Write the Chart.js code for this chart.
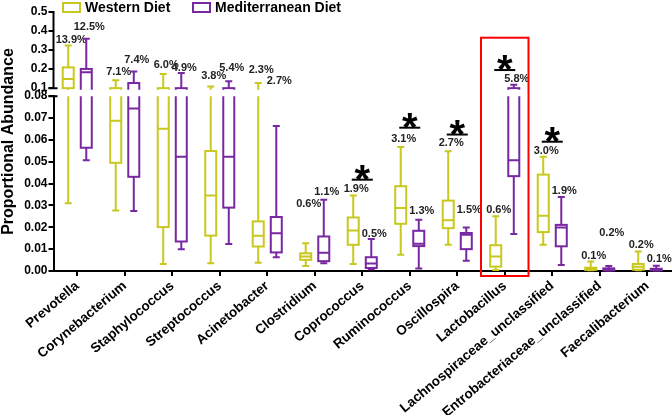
<!DOCTYPE html>
<html>
<head>
<meta charset="utf-8">
<script src="https://cdn.jsdelivr.net/npm/chart.js@4.4.1/dist/chart.umd.min.js"></script>
<style>
  html, body { margin: 0; padding: 0; background: #fff; }
  #wrap { width: 672px; height: 415px; }
</style>
</head>
<body>
<div id="wrap"><canvas id="canvas" width="672" height="415"></canvas></div>
<script>
var categories = ['Prevotella', 'Corynebacterium', 'Staphylococcus', 'Streptococcus', 'Acinetobacter',
  'Clostridium', 'Coprococcus', 'Ruminococcus', 'Oscillospira', 'Lactobacillus',
  'Lachnospiraceae_unclassified', 'Entrobacteriaceae_unclassified', 'Faecalibacterium'];

// [min, q1, median, q3, max]
var western = [
  [0.031, 0.1, 0.148, 0.209, 0.324],
  [0.0277, 0.0495, 0.0688, 0.1, 0.141],
  [0.0032, 0.0201, 0.0651, 0.1, 0.175],
  [0.0035, 0.0162, 0.0345, 0.0549, 0.109],
  [0.0038, 0.0112, 0.0161, 0.0227, 0.127],
  [0.0023, 0.0051, 0.0066, 0.0081, 0.0127],
  [0.0032, 0.012, 0.0185, 0.0245, 0.0346],
  [0.0074, 0.0216, 0.0288, 0.0388, 0.0567],
  [0.012, 0.0196, 0.0232, 0.0322, 0.0548],
  [0.0005, 0.002, 0.0066, 0.0118, 0.025],
  [0.012, 0.0178, 0.0253, 0.0441, 0.0523],
  [0.0003, 0.0005, 0.001, 0.0015, 0.0043],
  [0.0003, 0.0006, 0.002, 0.0032, 0.0089]
];
var mediterranean = [
  [0.0507, 0.0564, 0.183, 0.201, 0.36],
  [0.0274, 0.0431, 0.0743, 0.127, 0.188],
  [0.01, 0.0135, 0.0523, 0.1, 0.18],
  [0.0124, 0.029, 0.0523, 0.1, 0.136],
  [0.0063, 0.0085, 0.0173, 0.0247, 0.0664],
  [0.0036, 0.0045, 0.0084, 0.0158, 0.0326],
  [0.0008, 0.0014, 0.0034, 0.0063, 0.0146],
  [0.0012, 0.0114, 0.0125, 0.0184, 0.0234],
  [0.0047, 0.01, 0.0166, 0.0174, 0.0199],
  [0.0169, 0.0434, 0.0507, 0.1, 0.118],
  [0.0028, 0.0113, 0.0199, 0.0211, 0.0339],
  [0.0002, 0.0003, 0.0007, 0.0012, 0.0023],
  [0.0002, 0.0003, 0.0006, 0.001, 0.0024]
];

var westernMeans = ['13.9%', '7.1%', '6.0%', '3.8%', '2.3%', '0.6%', '1.9%', '3.1%', '2.7%', '0.6%', '3.0%', '0.1%', '0.2%'];
var mediterraneanMeans = ['12.5%', '7.4%', '4.9%', '5.4%', '2.7%', '1.1%', '0.5%', '1.3%', '1.5%', '5.8%', '1.9%', '0.2%', '0.1%'];

var significant = [6, 7, 8, 9, 10];
var highlighted = 9;

var topTicks = [0.1, 0.2, 0.3, 0.4, 0.5];
var bottomTicks = [0, 0.01, 0.02, 0.03, 0.04, 0.05, 0.06, 0.07, 0.08];

// label placement (pixels above the whisker cap)
var westernLift = [5.3, 8.4, 9.3, 10, 13.3, 39.3, 6.4, 8.4, 8.3, 6.7, 5.3, 6, 6.7];
var mediterraneanLift = [11.7, 11.7, 5, 13.4, 45, 7.3, 5.3, 9, 17.7, 5.7, 6.3, 33.3, 6.4];
var starLift = [15.7, 19.4, 16.7, 14.7, 15];

var yellow = 'rgb(200,200,30)';
var purple = 'rgb(120,40,160)';
var FONT = 'Liberation Sans, Arial, sans-serif';

var series = [
  { name: 'Western Diet', color: yellow, stats: western, means: westernMeans, lift: westernLift, side: -1 },
  { name: 'Mediterranean Diet', color: purple, stats: mediterranean, means: mediterraneanMeans, lift: mediterraneanLift, side: 1 }
];

function valuePixel(chart, v) {
  var s = chart.scales;
  if (v >= 0.1) return s.yTop.getPixelForValue(v);
  if (v <= 0.08) return s.yBot.getPixelForValue(v);
  return s.yTop.getPixelForValue(0.1);
}

var boxPlugin = {
  id: 'boxes',
  afterDatasetsDraw: function(chart) {
    var ctx = chart.ctx, area = chart.chartArea, s = chart.scales;
    var x = s.x, top = s.yTop, bot = s.yBot;
    var step = x.getPixelForValue(1) - x.getPixelForValue(0);
    var hw = 5.5, cw = 3.5;
    var parts = [
      { sc: top, y0: top.getPixelForValue(0.5) - 8, y1: top.getPixelForValue(0.1) + 1.5 },
      { sc: bot, y0: bot.getPixelForValue(0.08), y1: bot.getPixelForValue(0) + 1.5 }
    ];

    series.forEach(function(ser) {
      ser.stats.forEach(function(st, i) {
        var xc = x.getPixelForValue(i) + ser.side * step * 0.19;
        parts.forEach(function(p) {
          var Y = function(v) { return p.sc.getPixelForValue(v); };
          ctx.save();
          ctx.beginPath();
          ctx.rect(area.left, p.y0, area.right - area.left, p.y1 - p.y0);
          ctx.clip();
          ctx.strokeStyle = ser.color;
          ctx.lineWidth = 2;
          ctx.beginPath();
          ctx.moveTo(xc, Y(st[0])); ctx.lineTo(xc, Y(st[1]));
          ctx.moveTo(xc, Y(st[3])); ctx.lineTo(xc, Y(st[4]));
          ctx.moveTo(xc - cw, Y(st[0])); ctx.lineTo(xc + cw, Y(st[0]));
          ctx.moveTo(xc - cw, Y(st[4])); ctx.lineTo(xc + cw, Y(st[4]));
          ctx.moveTo(xc - hw, Y(st[2])); ctx.lineTo(xc + hw, Y(st[2]));
          ctx.stroke();
          ctx.strokeRect(xc - hw, Y(st[3]), hw * 2, Y(st[1]) - Y(st[3]));
          ctx.restore();
        });

        // mean label
        ctx.save();
        ctx.fillStyle = '#222';
        ctx.font = 'bold 11px ' + FONT;
        ctx.textAlign = 'center';
        ctx.textBaseline = 'middle';
        ctx.fillText(ser.means[i], xc + 3, valuePixel(chart, st[4]) - ser.lift[i]);
        ctx.restore();
      });
    });

    // significance marks
    significant.forEach(function(idx, k) {
      var xt = x.getPixelForValue(idx);
      var yl = Math.min(valuePixel(chart, western[idx][4]), valuePixel(chart, mediterranean[idx][4])) - starLift[k];
      ctx.save();
      ctx.strokeStyle = '#000';
      ctx.lineWidth = 2;
      ctx.beginPath();
      ctx.moveTo(xt - 10.5, yl); ctx.lineTo(xt + 10.5, yl);
      ctx.stroke();
      ctx.fillStyle = '#000';
      ctx.font = 'bold 40px ' + FONT;
      ctx.textAlign = 'center';
      ctx.textBaseline = 'alphabetic';
      ctx.fillText('*', xt, yl + 13);
      ctx.restore();
    });

    // highlight frame
    var xh = x.getPixelForValue(highlighted);
    ctx.save();
    ctx.strokeStyle = '#ff0000';
    ctx.lineWidth = 2;
    ctx.strokeRect(xh - step / 2, top.getPixelForValue(0.365), step, bot.getPixelForValue(0) + 5 - top.getPixelForValue(0.365));
    ctx.restore();
  },
  afterDraw: function(chart) {
    var ctx = chart.ctx, area = chart.chartArea, s = chart.scales;
    var top = s.yTop, bot = s.yBot;
    var ax = area.left;
    ctx.save();
    // upper axis segment and break marks
    ctx.strokeStyle = '#000';
    ctx.lineWidth = 2;
    ctx.beginPath();
    ctx.moveTo(ax, top.getPixelForValue(0.5) - 1);
    ctx.lineTo(ax, top.getPixelForValue(0.1));
    ctx.moveTo(ax - 5, top.getPixelForValue(0.1)); ctx.lineTo(ax + 4, top.getPixelForValue(0.1));
    ctx.moveTo(ax - 5, bot.getPixelForValue(0.08)); ctx.lineTo(ax + 4, bot.getPixelForValue(0.08));
    ctx.stroke();

    // y title
    ctx.fillStyle = '#000';
    ctx.font = 'bold 16px ' + FONT;
    ctx.textAlign = 'center';
    ctx.textBaseline = 'middle';
    ctx.translate(9, (area.top + area.bottom) / 2);
    ctx.rotate(-Math.PI / 2);
    ctx.fillText('Proportional Abundance', 0, 0);
    ctx.restore();

    // legend
    ctx.save();
    ctx.lineWidth = 2;
    ctx.font = 'bold 14px ' + FONT;
    ctx.textBaseline = 'middle';
    ctx.fillStyle = '#000';
    var lx = [63, 193];
    series.forEach(function(ser, k) {
      ctx.strokeStyle = ser.color;
      ctx.strokeRect(lx[k], 3, 17, 9);
      ctx.fillText(ser.name, lx[k] + 22, 8);
    });
    ctx.restore();
  }
};

var axisFont = { family: FONT, size: 12, weight: 'bold' };

window.onload = function() {
  var ctx = document.getElementById('canvas').getContext('2d');
  window.myChart = new Chart(ctx, {
    type: 'bar',
    data: {
      labels: categories,
      datasets: series.map(function(ser) {
        return {
          label: ser.name,
          data: ser.stats.map(function(st) { return st[2]; }),
          yAxisID: 'yBot',
          backgroundColor: 'rgba(0,0,0,0)',
          borderWidth: 0
        };
      })
    },
    options: {
      responsive: false,
      devicePixelRatio: 1,
      animation: false,
      layout: { padding: { top: 12, right: 1, left: 0, bottom: 0 } },
      plugins: { legend: { display: false }, tooltip: { enabled: false } },
      scales: {
        x: {
          type: 'category',
          offset: true,
          grid: { offset: false, drawOnChartArea: false, tickLength: 5, lineWidth: 2, color: '#000' },
          border: { color: '#000', width: 2 },
          ticks: { color: '#000', font: { family: FONT, size: 13.5, weight: 'bold' }, minRotation: 40, maxRotation: 40, autoSkip: false, padding: 2 },
          afterFit: function(sc) { sc.height = 144; }
        },
        yBot: {
          type: 'linear',
          position: 'left',
          stack: 'v',
          stackWeight: 174.5,
          min: 0,
          max: 0.08,
          afterBuildTicks: function(sc) { sc.ticks = bottomTicks.map(function(v) { return { value: v }; }); },
          ticks: { color: '#000', font: axisFont, padding: 1, autoSkip: false, callback: function(v) { return v.toFixed(2); } },
          grid: { drawOnChartArea: false, tickLength: 5, lineWidth: 2, color: '#000' },
          border: { color: '#000', width: 2 },
          afterFit: function(sc) { sc.width = 53.5; }
        },
        yTop: {
          type: 'linear',
          position: 'left',
          stack: 'v',
          stackWeight: 84,
          min: 0.058,
          max: 0.5,
          afterBuildTicks: function(sc) { sc.ticks = topTicks.map(function(v) { return { value: v }; }); },
          ticks: { color: '#000', font: axisFont, padding: 1, autoSkip: false, callback: function(v) { return v.toFixed(1); } },
          grid: { drawOnChartArea: false, tickLength: 5, lineWidth: 2, color: '#000' },
          border: { display: false },
          afterFit: function(sc) { sc.width = 53.5; }
        }
      }
    },
    plugins: [boxPlugin]
  });
};
</script>
</body>
</html>
